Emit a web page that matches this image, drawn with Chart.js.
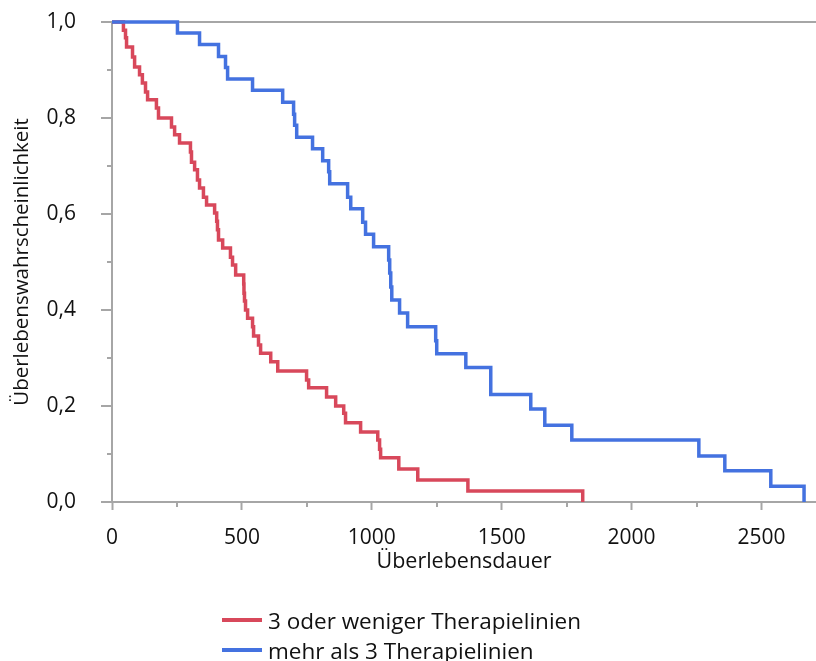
<!DOCTYPE html>
<html>
<head>
<meta charset="utf-8">
<script src="https://cdn.jsdelivr.net/npm/chart.js@4.4.1/dist/chart.umd.min.js"></script>
<style>
  html, body { margin: 0; padding: 0; background: #fff; }
  #wrap { position: relative; width: 816px; height: 661px; overflow: hidden; }
  #legend { position: absolute; left: 222px; top: 605px; font-family: 'Open Sans', sans-serif; font-size: 22.5px; color: #111; }
  .item { display: flex; align-items: center; height: 30px; white-space: nowrap; }
  .swatch { width: 40px; height: 4px; margin-right: 6px; }
</style>
</head>
<body>
<div id="wrap">
  <canvas id="km" width="816" height="661"></canvas>
  <div id="legend"></div>
</div>
<script>
// Kaplan-Meier Stufen
const redLabel = '3 oder weniger Therapielinien';
const redTime = [0, 44, 52, 56, 79, 87, 106, 117, 129, 137, 171, 179, 229, 241, 260, 302, 306, 318, 329, 337,
  352, 364, 395, 403, 406, 410, 426, 456, 464, 476, 507, 508, 510, 514, 522, 541, 545, 564, 572, 611,
  638, 749, 757, 826, 861, 892, 899, 957, 1023, 1030, 1034, 1104, 1177, 1370, 1812];
const redSurv = [1, 0.983, 0.967, 0.948, 0.927, 0.906, 0.890, 0.873, 0.854, 0.838, 0.821, 0.800, 0.781, 0.765, 0.748, 0.729, 0.708, 0.692, 0.671, 0.654,
  0.635, 0.619, 0.602, 0.585, 0.567, 0.546, 0.529, 0.510, 0.494, 0.473, 0.454, 0.435, 0.419, 0.400, 0.383, 0.365, 0.346, 0.327, 0.310, 0.292,
  0.273, 0.254, 0.238, 0.219, 0.200, 0.185, 0.165, 0.146, 0.129, 0.110, 0.092, 0.069, 0.046, 0.023, 0];

const blueLabel = 'mehr als 3 Therapielinien';
const blueTime = [0, 252, 337, 410, 437, 445, 541, 657, 699, 703, 711, 772, 811, 834, 838, 907, 919, 965, 976, 1007,
  1065, 1069, 1073, 1077, 1107, 1138, 1246, 1250, 1362, 1458, 1612, 1666, 1770, 2259, 2359, 2536, 2664];
const blueSurv = [1, 0.977, 0.953, 0.928, 0.905, 0.881, 0.858, 0.833, 0.808, 0.785, 0.760, 0.736, 0.711, 0.688, 0.663, 0.635, 0.611, 0.583, 0.558, 0.532,
  0.504, 0.477, 0.448, 0.421, 0.394, 0.365, 0.336, 0.309, 0.280, 0.224, 0.194, 0.160, 0.129, 0.096, 0.065, 0.033, 0];

// Achsen
const xMax = 2710;
const xTicks = [0, 500, 1000, 1500, 2000, 2500];
const xMinor = [250, 750, 1250, 1750, 2250];
const yTicks = [0, 0.2, 0.4, 0.6, 0.8, 1];
const yMinor = [0.1, 0.3, 0.5, 0.7, 0.9];

const red = '#d8485b';
const blue = '#4472e0';
const axisGray = '#a6a6a6';
const textColor = '#111';
const fontFamily = "'Open Sans', sans-serif";

function toPoints(xs, ys) {
  return xs.map((t, i) => ({ x: t, y: ys[i] }));
}

// kurze Zwischenstriche an beiden Achsen
const minorTicks = {
  id: 'minorTicks',
  afterDraw(chart) {
    const { ctx, scales: { x, y } } = chart;
    ctx.save();
    ctx.strokeStyle = axisGray;
    ctx.lineWidth = 2;
    xMinor.forEach((v) => {
      const px = Math.round(x.getPixelForValue(v));
      ctx.beginPath();
      ctx.moveTo(px, y.bottom);
      ctx.lineTo(px, y.bottom + 5);
      ctx.stroke();
    });
    yMinor.forEach((v) => {
      const py = Math.round(y.getPixelForValue(v));
      ctx.beginPath();
      ctx.moveTo(x.left, py);
      ctx.lineTo(x.left - 5, py);
      ctx.stroke();
    });
    ctx.restore();
  }
};

new Chart(document.getElementById('km').getContext('2d'), {
  type: 'line',
  data: {
    datasets: [
      {
        label: redLabel,
        data: toPoints(redTime, redSurv),
        borderColor: red,
        borderWidth: 3.5,
        stepped: 'before',
        pointRadius: 0,
        fill: false,
        clip: false,
        order: 1,
      },
      {
        label: blueLabel,
        data: toPoints(blueTime, blueSurv),
        borderColor: blue,
        borderWidth: 3.5,
        stepped: 'before',
        pointRadius: 0,
        fill: false,
        clip: false,
        order: 0,
      },
    ],
  },
  options: {
    responsive: false,
    animation: false,
    layout: { padding: { top: 22, right: 0, bottom: 84, left: 0 } },
    plugins: {
      legend: { display: false },
      tooltip: { enabled: false },
    },
    scales: {
      x: {
        type: 'linear',
        min: 0,
        max: xMax,
        afterFit: (s) => { s.height = 75; },
        afterBuildTicks: (s) => { s.ticks = xTicks.map((v) => ({ value: v })); },
        ticks: {
          maxRotation: 0,
          autoSkip: false,
          padding: 15,
          color: textColor,
          font: { family: fontFamily, size: 21 },
          callback: (v) => String(v),
        },
        grid: { drawOnChartArea: false, tickLength: 8, tickColor: axisGray, tickWidth: 2 },
        border: { color: axisGray, width: 2 },
        title: {
          display: true,
          text: 'Überlebensdauer',
          color: textColor,
          font: { family: fontFamily, size: 21.5 },
          padding: { top: 0, bottom: 2 },
        },
      },
      y: {
        min: 0,
        max: 1,
        // Breite fest, Randabstand der Beschriftung nicht in den Plotrand rechnen
        afterFit: (s) => { s.width = 112; s.paddingTop = 0; s.paddingBottom = 0; },
        afterBuildTicks: (s) => { s.ticks = yTicks.map((v) => ({ value: v })); },
        ticks: {
          padding: 25,
          color: textColor,
          font: { family: fontFamily, size: 21 },
          callback: (v) => v.toFixed(1).replace('.', ','),
        },
        grid: {
          color: (c) => (c.tick && c.tick.value === 1 ? axisGray : 'transparent'),
          lineWidth: 2,
          tickLength: 11,
          tickColor: axisGray,
          tickWidth: 2,
        },
        border: { color: axisGray, width: 2 },
        title: {
          display: true,
          text: 'Überlebenswahrscheinlichkeit',
          color: textColor,
          font: { family: fontFamily, size: 20.5 },
          padding: { top: 10, bottom: 0 },
        },
      },
    },
  },
  plugins: [minorTicks],
});

// Legende untereinander, wie in der Vorlage
const legend = document.getElementById('legend');
[[redLabel, red], [blueLabel, blue]].forEach(([label, color]) => {
  const row = document.createElement('div');
  row.className = 'item';
  const sw = document.createElement('span');
  sw.className = 'swatch';
  sw.style.background = color;
  const txt = document.createElement('span');
  txt.textContent = label;
  row.appendChild(sw);
  row.appendChild(txt);
  legend.appendChild(row);
});
</script>
</body>
</html>
